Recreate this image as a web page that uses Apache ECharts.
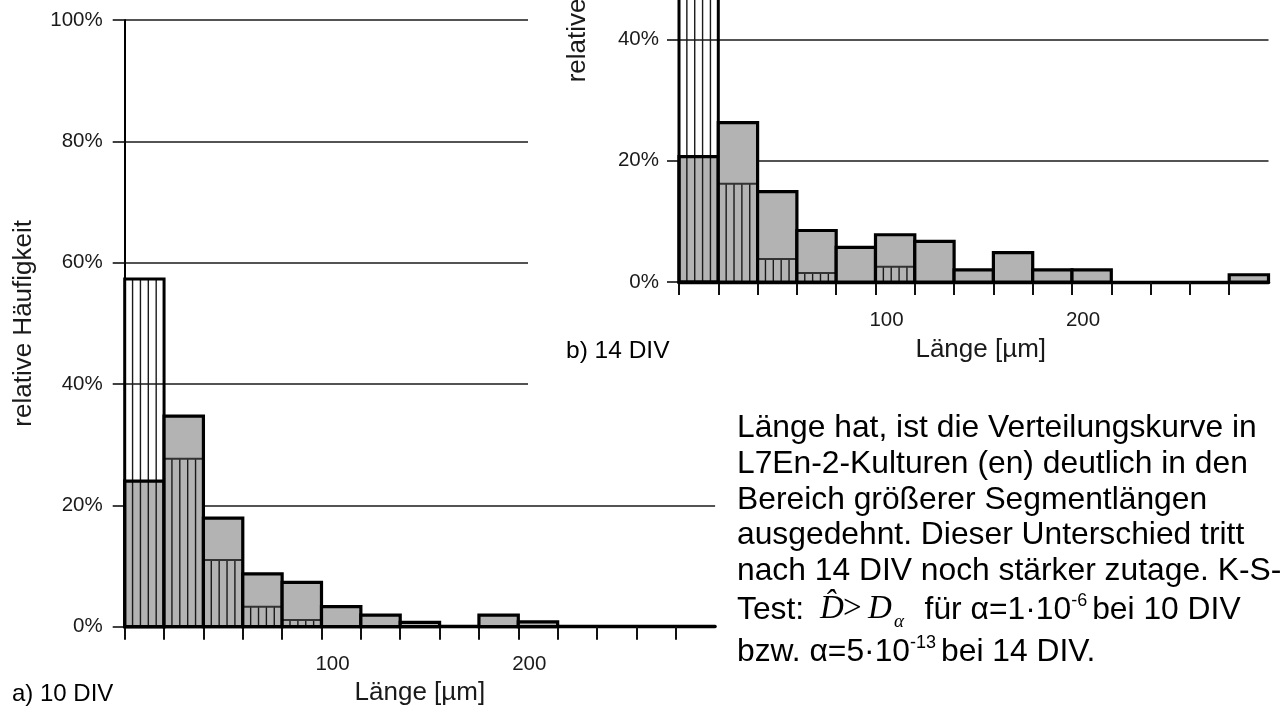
<!DOCTYPE html>
<html>
<head>
<meta charset="utf-8">
<script src="https://cdn.jsdelivr.net/npm/echarts@6/dist/echarts.min.js"></script>
<style>
  html, body { margin: 0; background: #fff; }
  #chart { width: 1282px; height: 715px; }
</style>
</head>
<body>
<div id="chart"></div>
<script>
// Histogrammklassen (µm)
const binLeft  = [0, 20, 40, 60, 80, 100, 120, 140, 160, 180, 200, 220, 240, 260, 280]
const binRight = [20, 40, 60, 80, 100, 120, 140, 160, 180, 200, 220, 240, 260, 280, 300]

// a) 10 DIV – relative Häufigkeit (%)
const grayA  = [24.0, 34.7, 17.9, 8.7, 7.3, 3.3, 1.9, 0.7, 0, 1.9, 0.8, 0, 0, 0, 0]
const hatchA = [57.3, 27.7, 11.0, 3.3, 1.1, 0, 0, 0, 0, 0, 0, 0, 0, 0, 0]

// b) 14 DIV
const grayB  = [20.7, 26.3, 14.9, 8.5, 5.7, 7.8, 6.7, 2.0, 4.85, 2.0, 2.0, 0, 0, 0, 1.2]
const hatchB = [52.0, 16.2, 3.8, 1.5, 0, 2.5, 0, 0, 0, 0, 0, 0, 0, 0, 0]

// Achsen
const xTickValues = [0, 20, 40, 60, 80, 100, 120, 140, 160, 180, 200, 220, 240, 260, 280]
const xLabelValues = [100, 200]

// Texte
const xName = 'Länge [µm]'
const yName = 'relative Häufigkeit'
const panelTitles = ['a) 10 DIV', 'b) 14 DIV']
const paragraph = [
  'Länge hat, ist die Verteilungskurve in',
  'L7En-2-Kulturen (en) deutlich in den',
  'Bereich größerer Segmentlängen',
  'ausgedehnt. Dieser Unterschied tritt',
  'nach 14 DIV noch stärker zutage. K-S-'
]

const sans = "'Liberation Sans', Arial, sans-serif"
const serif = "'Liberation Serif', 'Times New Roman', serif"

const chart = echarts.init(document.getElementById('chart'))

// Balken: grauer Anteil + senkrecht schraffierter Anteil
const renderHist = (params, api) => {
  const x0 = api.value(0)
  const x1 = api.value(1)
  const g = api.value(2)
  const h = api.value(3)
  const base = api.coord([x0, 0])
  const left = base[0]
  const right = api.coord([x1, 0])[0]
  const children = []
  if (g > 0) {
    const top = api.coord([x1, g])[1]
    children.push({
      type: 'rect',
      shape: { x: left, y: top, width: right - left, height: base[1] - top },
      style: { fill: '#b3b3b3' }
    })
  }
  if (h > 0) {
    const top = api.coord([x1, h])[1]
    for (let k = 1; k < 5; k++) {
      const xk = api.coord([x0 + (x1 - x0) * k / 5, 0])[0]
      children.push({
        type: 'line',
        shape: { x1: xk, y1: base[1], x2: xk, y2: top },
        style: { stroke: '#1a1a1a', lineWidth: 1.4 }
      })
    }
    children.push({
      type: 'rect',
      shape: { x: left, y: top, width: right - left, height: base[1] - top },
      style: { fill: 'none', stroke: h > g ? '#000' : '#333', lineWidth: h > g ? 3 : 2 }
    })
  }
  if (g > 0) {
    const top = api.coord([x1, g])[1]
    children.push({
      type: 'rect',
      shape: { x: left, y: top, width: right - left, height: base[1] - top },
      style: { fill: 'none', stroke: '#000', lineWidth: 3.2 }
    })
  }
  return { type: 'group', children }
}

const makeX = (gridIndex, z, nameGap, namePad) => ({
  gridIndex,
  z,
  type: 'value',
  min: 0,
  max: 300,
  interval: 20,
  name: xName,
  nameLocation: 'middle',
  nameGap,
  nameTextStyle: { fontFamily: sans, fontSize: 26, color: '#1a1a1a', padding: [0, 0, 0, namePad] },
  axisLine: { lineStyle: { color: '#000', width: 3.4 } },
  axisTick: { customValues: xTickValues, length: 13, lineStyle: { color: '#111', width: 2 } },
  axisLabel: {
    customValues: xLabelValues,
    fontFamily: sans,
    fontSize: 20.5,
    color: '#1a1a1a',
    margin: 27.5,
    padding: [0, 0, 0, 22]
  },
  splitLine: { show: false }
})

const makeY = (gridIndex, z, labelMargin) => ({
  gridIndex,
  z,
  type: 'value',
  min: 0,
  max: 100,
  interval: 20,
  name: yName,
  nameLocation: 'middle',
  nameGap: 88,
  nameTextStyle: { fontFamily: sans, fontSize: 26, color: '#1a1a1a' },
  axisLine: { show: true, lineStyle: { color: '#000', width: 2 } },
  axisTick: { show: true, length: 12, lineStyle: { color: '#111', width: 1.6 } },
  axisLabel: {
    fontFamily: sans,
    fontSize: 20.5,
    color: '#1a1a1a',
    margin: labelMargin,
    formatter: v => v + '%'
  },
  splitLine: { lineStyle: { color: '#1a1a1a', width: 1.7 } }
})

const toData = (gray, hatch) => binLeft.map((lo, i) => [lo, binRight[i], gray[i], hatch[i]])

const textEl = (x, y, text, font, extra) => ({
  type: 'text',
  x,
  y,
  z: 10,
  style: Object.assign({
    text,
    font,
    fill: '#000',
    textAlign: 'left',
    textVerticalAlign: 'middle'
  }, extra || {})
})

const supRich = {
  sup: { fontSize: 18, fontFamily: sans, fill: '#000', verticalAlign: 'top', lineHeight: 20 }
}

const option = {
  animation: false,
  backgroundColor: '#fff',
  grid: [
    { left: 124.7, top: 20, width: 590.4, height: 606.7, outerBoundsMode: 'none', containLabel: false },
    { left: 679, top: -324, width: 589.5, height: 606, outerBoundsMode: 'none', containLabel: false }
  ],
  xAxis: [makeX(0, 0, 49, 0), makeX(1, 3, 55, 14)],
  yAxis: [makeY(0, 0, 22), makeY(1, 3, 20)],
  series: [
    {
      type: 'custom',
      xAxisIndex: 0,
      yAxisIndex: 0,
      z: 2,
      renderItem: renderHist,
      encode: { x: [0, 1], y: [2, 3] },
      data: toData(grayA, hatchA)
    },
    {
      type: 'custom',
      xAxisIndex: 1,
      yAxisIndex: 1,
      z: 4,
      renderItem: renderHist,
      encode: { x: [0, 1], y: [2, 3] },
      data: toData(grayB, hatchB)
    }
  ],
  graphic: [
    // Bildfläche von b) überdeckt die Gitterlinien von a)
    { type: 'rect', z: 1, shape: { x: 528, y: 0, width: 760, height: 396 }, style: { fill: '#fff' } },
    textEl(12, 694, panelTitles[0], '24px ' + sans),
    textEl(566, 351, panelTitles[1], '24.5px ' + sans),
    textEl(737, 410.5, paragraph.join('\n'), '31.8px ' + sans, { textVerticalAlign: 'top', lineHeight: 35.7 }),
    textEl(737, 610, 'Test:', '31.8px ' + sans),
    textEl(820, 609.5, 'D\u0302', 'italic 33px ' + serif),
    textEl(843, 609.5, '>', '33px ' + serif),
    textEl(868, 609.5, 'D', 'italic 33px ' + serif),
    textEl(894, 622, 'α', 'italic 19px ' + serif),
    textEl(924.6, 610, 'für α=1·10{sup|-6 }bei 10 DIV', '31.8px ' + sans, { lineHeight: 36, rich: supRich }),
    textEl(737, 652, 'bzw. α=5·10{sup|-13 }bei 14 DIV.', '31.8px ' + sans, { lineHeight: 36, rich: supRich })
  ]
}

chart.setOption(option)
</script>
</body>
</html>
